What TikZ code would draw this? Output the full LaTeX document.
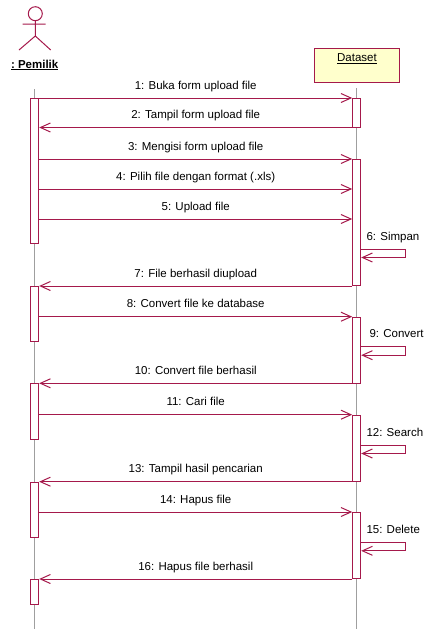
\documentclass[tikz,border=0pt]{standalone}
\usepackage{fontspec}
\setmainfont{Liberation Sans}
\usetikzlibrary{arrows.meta}
\definecolor{rose}{RGB}{165,25,75}
\definecolor{boxfill}{RGB}{255,255,204}

\begin{document}
\begin{tikzpicture}[x=1pt,y=-1pt,font=\fontsize{11.5}{13}\selectfont,line width=1pt,
act/.style={draw=rose, fill=white, minimum width=8pt, inner sep=0pt, anchor=north},
msg/.style={draw=rose, -{Straight Barb[length=10pt,width=9pt]}},
life/.style={draw=gray!75, line width=1.5pt},
lbl/.style={anchor=base, inner sep=0pt, yshift=9pt},
selflbl/.style={anchor=base west, inner sep=0pt}]
\useasboundingbox (0,0) rectangle (423,629);
\draw[rose] (35.3,13.7) circle[radius=7] (22.7,24) -- (45.7,24) (35.3,20.7) -- (35.3,36)
  (19,50) -- (35.3,36) -- (50.7,50);
\node[anchor=base, inner sep=0pt] (pemilik) at (34.7,68) {\bfseries\underline{:\ Pemilik}};
\node[draw=rose, fill=boxfill, minimum width=85.6pt, minimum height=33.4pt, inner sep=0pt,
  anchor=north west] (dataset) at (313.7,48.3) {};
\node[anchor=base, inner sep=0pt] (dsname) at (dataset.north |- 0,61.5) {\underline{Dataset}};
\coordinate (pend) at (34.7,629);
\coordinate (dend) at (356.7,629);
\draw[life] (pend |- 0,89) -- (pend);
\draw[life] (dend |- 0,88) -- (dend);
\foreach \n/\t/\h in {p1/97.7/145.6, p2/286/54.7, p3/383.3/55.7, p4/481.7/55, p5/579/25.3}
  \node[act, minimum height=\h pt] (\n) at (34.7,\t) {};
\foreach \n/\t/\h in {d1/97.7/29.6, d2/159/126, d3/316.7/66, d4/414.7/66, d5/512/66.3}
  \node[act, minimum height=\h pt] (\n) at (356.7,\t) {};
\foreach \s/\e/\y/\t [count=\i] in {
  p1.east/d1.west/98/{1: Buka form upload file},
  d1.west/p1.east/127.5/{2: Tampil form upload file},
  p1.east/d2.west/159/{3: Mengisi form upload file},
  p1.east/d2.west/189/{4: Pilih file dengan format (.xls)},
  p1.east/d2.west/219/{5: Upload file},
  d2.west/p2.east/286/{7: File berhasil diupload},
  p2.east/d3.west/316.7/{8: Convert file ke database},
  d3.west/p3.east/383.3/{10: Convert file berhasil},
  p3.east/d4.west/414.7/{11: Cari file},
  d4.west/p4.east/481.7/{13: Tampil hasil pencarian},
  p4.east/d5.west/512/{14: Hapus file},
  d5.west/p5.east/579/{16: Hapus file berhasil}}
  \draw[msg] (\s |- 0,\y) -- node[lbl] (m\i) {\t} (\e |- 0,\y);
\foreach \b/\y/\x/\t [count=\i] in {d2/249/366/{6: Simpan}, d3/346.7/369/{9: Convert},
  d4/445/366/{12: Search}, d5/542.3/366/{15: Delete}} {
  \draw[msg] (\b.east |- 0,\y) -- ++(44.6,0) -- ++(0,8.5) -- (\b.east |- 0,\y+8.5);
  \node[selflbl] (s\i) at (\x,\y-9) {\t};
}
\end{tikzpicture}
\end{document}
